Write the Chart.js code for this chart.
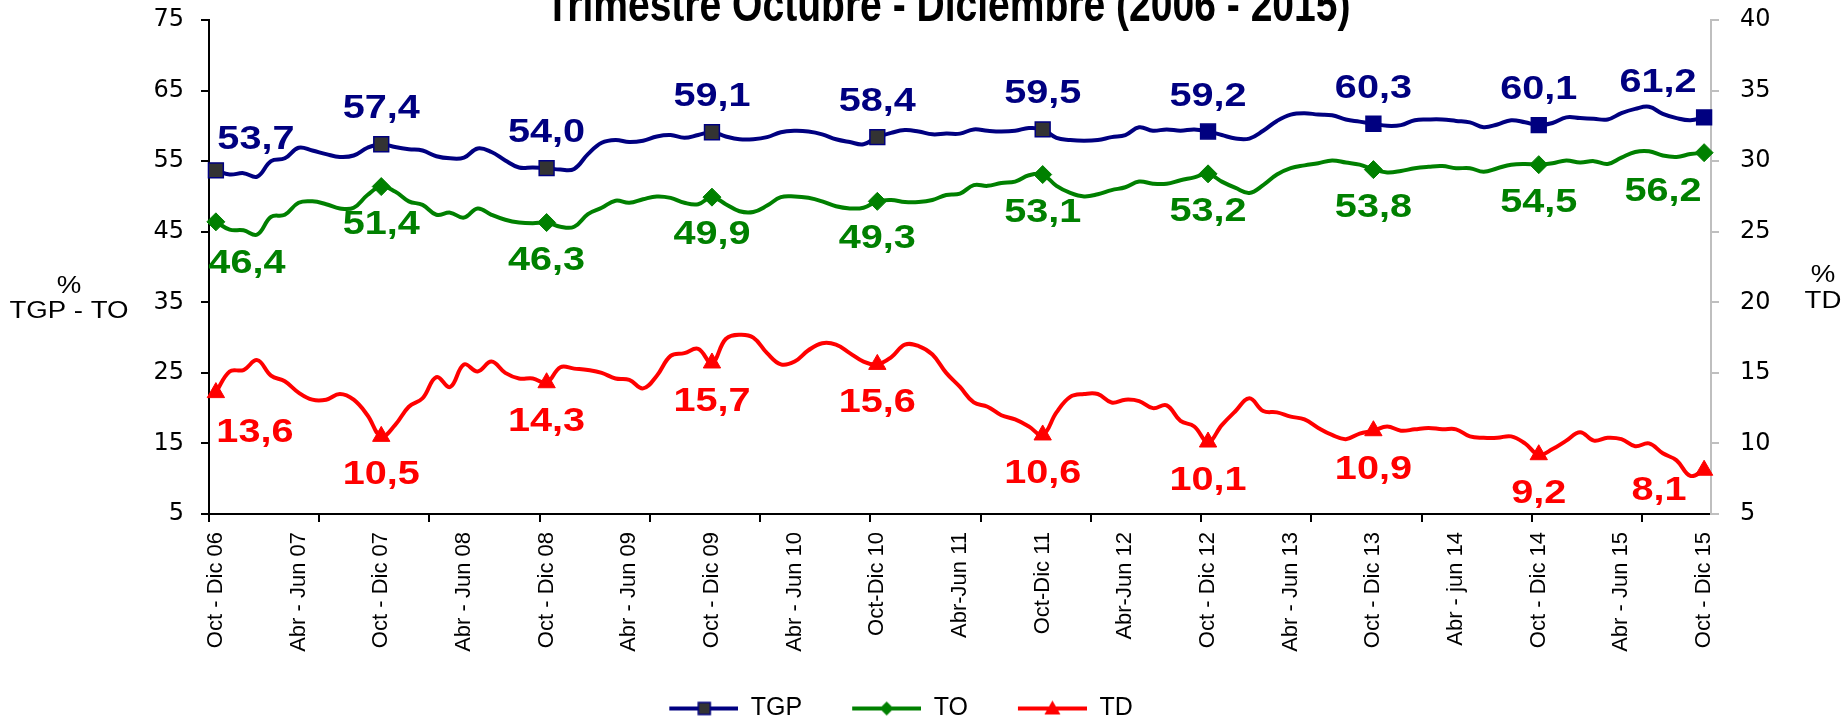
<!DOCTYPE html>
<html>
<head>
<meta charset="utf-8">
<script src="https://cdn.jsdelivr.net/npm/chart.js@4.4.1/dist/chart.umd.min.js"></script>
<style>
  html, body { margin: 0; padding: 0; background: #fff; }
  #contenedor { width: 1845px; height: 721px; position: relative; }
</style>
</head>
<body>
<div id="contenedor"><canvas id="grafico"></canvas></div>
<script>
(() => {
  'use strict'

  // Etiquetas visibles del eje X (una de cada 6 trimestres móviles)
  const tickLabels = ['Oct - Dic 06', 'Abr - Jun 07', 'Oct - Dic 07', 'Abr - Jun 08', 'Oct - Dic 08',
    'Abr - Jun 09', 'Oct - Dic 09', 'Abr - Jun 10', 'Oct-Dic 10', 'Abr-Jun 11', 'Oct-Dic 11',
    'Abr-Jun 12', 'Oct - Dic 12', 'Abr - Jun 13', 'Oct - Dic 13', 'Abr - jun 14', 'Oct - Dic 14',
    'Abr - Jun 15', 'Oct - Dic 15'];
  const meses = ['Ene', 'Feb', 'Mar', 'Abr', 'May', 'Jun', 'Jul', 'Ago', 'Sep', 'Oct', 'Nov', 'Dic'];

  // Tasa global de participación (%)
  const tgp = [53.7, 53.1, 53.3, 52.8, 55.0, 55.4, 56.9, 56.5, 56.0, 55.6, 55.8, 56.9,
    57.4, 57.0, 56.7, 56.5, 55.7, 55.4, 55.5, 56.8, 56.3, 55.1, 54.1, 54.1,
    54.0, 53.8, 53.9, 56.0, 57.6, 58.0, 57.7, 57.9, 58.5, 58.7, 58.3, 58.7,
    59.1, 58.5, 58.1, 58.1, 58.4, 59.1, 59.3, 59.2, 58.8, 58.1, 57.7, 57.4,
    58.4, 59.0, 59.4, 59.2, 58.8, 58.9, 58.9, 59.5, 59.3, 59.2, 59.3, 59.7,
    59.5, 58.3, 58.0, 57.9, 58.0, 58.4, 58.7, 59.8, 59.3, 59.5, 59.3, 59.5,
    59.2, 58.7, 58.2, 58.2, 59.3, 60.7, 61.6, 61.8, 61.6, 61.5, 60.9, 60.6,
    60.3, 60.0, 60.1, 60.8, 60.9, 60.9, 60.7, 60.5, 59.8, 60.2, 60.8, 60.5,
    60.1, 60.4, 61.2, 61.1, 61.0, 60.9, 61.8, 62.4, 62.7, 61.7, 61.1, 60.8,
    61.2];
  // Tasa de ocupación (%)
  const to = [46.4, 45.3, 45.2, 44.6, 47.1, 47.4, 49.1, 49.3, 48.9, 48.3, 48.4, 50.2,
    51.4, 50.7, 49.3, 48.8, 47.4, 47.7, 47.0, 48.3, 47.4, 46.7, 46.3, 46.2,
    46.3, 45.7, 45.7, 47.5, 48.4, 49.4, 49.1, 49.6, 50.0, 49.8, 49.1, 48.9,
    49.9, 48.9, 47.9, 47.8, 48.7, 49.9, 50.0, 49.8, 49.3, 48.6, 48.3, 48.4,
    49.3, 49.5, 49.2, 49.2, 49.5, 50.2, 50.4, 51.6, 51.5, 51.9, 52.1, 53.0,
    53.1, 51.5, 50.5, 50.0, 50.3, 50.9, 51.3, 52.1, 51.8, 51.8, 52.3, 52.7,
    53.2, 52.1, 51.2, 50.5, 51.6, 53.1, 54.0, 54.4, 54.7, 55.1, 54.8, 54.5,
    53.8, 53.4, 53.6, 54.0, 54.2, 54.3, 54.0, 54.0, 53.5, 54.0, 54.5, 54.6,
    54.5, 54.7, 55.1, 54.8, 55.0, 54.6, 55.5, 56.3, 56.4, 55.8, 55.6, 56.0,
    56.2];
  // Tasa de desempleo (%), eje derecho
  const td = [13.6, 15.1, 15.2, 15.9, 14.8, 14.4, 13.6, 13.1, 13.1, 13.5, 13.1, 12.0,
    10.5, 11.3, 12.6, 13.2, 14.7, 14.0, 15.6, 15.1, 15.8, 15.0, 14.6, 14.6,
    14.3, 15.4, 15.3, 15.2, 15.0, 14.6, 14.5, 13.9, 14.8, 16.2, 16.4, 16.7,
    15.7, 17.4, 17.7, 17.5, 16.4, 15.6, 15.8, 16.6, 17.1, 17.0, 16.4, 15.8,
    15.6, 16.1, 17.0, 16.9, 16.3, 15.0, 14.0, 12.9, 12.6, 12.0, 11.7, 11.2,
    10.6, 12.2, 13.3, 13.5, 13.5, 12.9, 13.1, 13.0, 12.5, 12.7, 11.6, 11.2,
    10.1, 11.3, 12.3, 13.2, 12.3, 12.2, 11.9, 11.7, 11.1, 10.6, 10.3, 10.7,
    10.9, 11.2, 10.9, 11.0, 11.1, 11.0, 11.0, 10.5, 10.4, 10.4, 10.5, 10.0,
    9.2, 9.6, 10.2, 10.8, 10.2, 10.4, 10.3, 9.8, 10.0, 9.3, 8.8, 7.7,
    8.1];

  // Trimestres móviles: Oct-Dic 06, Nov-Ene 07, ... ; se usa la etiqueta visible cada 6
  const categorias = tgp.map((_, i) => {
    if (i % 6 === 0) return tickLabels[i / 6];
    const ini = (9 + i) % 12;
    const fin = (ini + 2) % 12;
    const anio = 6 + Math.floor((11 + i) / 12);
    return meses[ini] + ' - ' + meses[fin] + ' ' + String(anio).padStart(2, '0');
  });

  const FUENTE = '"Liberation Sans", Arial, sans-serif';
  const FUENTE_EJES = '"DejaVu Sans", Verdana, sans-serif';
  const AZUL = '#000080', VERDE = '#008000', ROJO = '#FF0000';
  const esMarca = (c) => c.dataIndex % 12 === 0; // solo los trimestres Oct-Dic llevan marca

  // Iconos de la leyenda: margen transparente a la izquierda + línea con marca al centro
  const MARGEN = 40;
  const iconoLeyenda = (color, marca) => {
    const c = document.createElement('canvas');
    c.width = MARGEN + 69; c.height = 22;
    const g = c.getContext('2d');
    g.translate(MARGEN, 0);
    g.strokeStyle = color; g.lineWidth = 4;
    g.beginPath(); g.moveTo(0, 11); g.lineTo(69, 11); g.stroke();
    marca(g);
    return c;
  };
  const iconos = [
    iconoLeyenda(AZUL, g => { g.fillStyle = '#333333'; g.fillRect(29, 5, 12, 12); g.strokeStyle = AZUL; g.lineWidth = 1.5; g.strokeRect(29, 5, 12, 12); }),
    iconoLeyenda(VERDE, g => { g.fillStyle = VERDE; g.beginPath(); g.moveTo(27.5, 11); g.lineTo(34.5, 4); g.lineTo(41.5, 11); g.lineTo(34.5, 18); g.closePath(); g.fill(); }),
    iconoLeyenda(ROJO, g => { g.fillStyle = ROJO; g.beginPath(); g.moveTo(34.5, 3); g.lineTo(42.5, 17); g.lineTo(26.5, 17); g.closePath(); g.fill(); })
  ];

  // Ajuste de las etiquetas de valor: dy general, [dx, dy] para la primera y la última
  const ajustes = [
    { dy: -35, primera: [40, -30], ultima: [-46, -34] },
    { dy: 38, primera: [31, 42], ultima: [-41, 39] },
    { dy: 39, primera: [39, 40], ultima: [-45, 21] }
  ];

  const etiquetasValor = {
    id: 'etiquetasValor',
    afterDatasetsDraw(chart) {
      const ctx = chart.ctx;
      chart.data.datasets.forEach((ds, d) => {
        const meta = chart.getDatasetMeta(d);
        const ultimo = ds.data.length - 1;
        meta.data.forEach((pt, i) => {
          if (i % 12 !== 0) return;
          const aj = ajustes[d];
          let [dx, dy] = [0, aj.dy];
          if (i === 0) [dx, dy] = aj.primera;
          if (i === ultimo) [dx, dy] = aj.ultima;
          ctx.save();
          ctx.translate(pt.x + dx, pt.y + dy);
          ctx.scale(1.2, 1);
          ctx.font = 'bold 33px ' + FUENTE;
          ctx.fillStyle = ds.borderColor;
          ctx.textAlign = 'center';
          ctx.textBaseline = 'middle';
          ctx.fillText(ds.data[i].toFixed(1).replace('.', ','), 0, 0);
          ctx.restore();
        });
      });
    }
  };

  // Título (cortado en la parte superior) y títulos de los ejes
  const textos = {
    id: 'textos',
    afterDraw(chart) {
      const ctx = chart.ctx;
      const titulo = 'Trimestre Octubre - Diciembre (2006 - 2015)';
      ctx.save();
      ctx.font = 'bold 48px ' + FUENTE;
      const k = 805 / ctx.measureText(titulo).width;
      ctx.translate(948, 21);
      ctx.scale(k, 1);
      ctx.fillStyle = '#000';
      ctx.textAlign = 'center';
      ctx.textBaseline = 'alphabetic';
      ctx.fillText(titulo, 0, 0);
      ctx.restore();

      const rotulo = (x, y, t) => {
        ctx.save();
        ctx.translate(x, y);
        ctx.scale(1.2, 1);
        ctx.font = '23px ' + FUENTE;
        ctx.fillStyle = '#000';
        ctx.textAlign = 'center';
        ctx.textBaseline = 'middle';
        ctx.fillText(t, 0, 0);
        ctx.restore();
      };
      rotulo(69, 287, '%');
      rotulo(69, 312, 'TGP - TO');
      rotulo(1823, 276, '%');
      rotulo(1823, 302, 'TD');
    }
  };

  const sinRelleno = (s, ancho) => { s.width = ancho; s.paddingTop = 0; s.paddingBottom = 0; };

  new Chart(document.getElementById('grafico'), {
    type: 'line',
    data: {
      labels: categorias,
      datasets: [{
        label: 'TGP',
        data: tgp,
        yAxisID: 'y',
        borderColor: AZUL,
        borderWidth: 4,
        tension: 0.4,
        pointStyle: 'rect',
        pointRadius: c => esMarca(c) ? 10.5 : 0,
        pointBackgroundColor: c => c.dataIndex < 72 ? '#333333' : AZUL,
        pointBorderColor: AZUL,
        pointBorderWidth: 1.5
      }, {
        label: 'TO',
        data: to,
        yAxisID: 'y',
        borderColor: VERDE,
        borderWidth: 4,
        tension: 0.4,
        pointStyle: 'rectRot',
        pointRadius: c => esMarca(c) ? 9 : 0,
        pointBackgroundColor: VERDE,
        pointBorderColor: VERDE,
        pointBorderWidth: 1
      }, {
        label: 'TD',
        data: td,
        yAxisID: 'y2',
        borderColor: ROJO,
        borderWidth: 4,
        tension: 0.4,
        pointStyle: 'triangle',
        pointRadius: c => esMarca(c) ? 10 : 0,
        pointBackgroundColor: ROJO,
        pointBorderColor: ROJO,
        pointBorderWidth: 1
      }]
    },
    options: {
      responsive: true,
      maintainAspectRatio: false,
      animation: false,
      devicePixelRatio: 1,
      layout: { padding: { top: 20, right: 43, bottom: -10, left: -MARGEN }, autoPadding: false },
      plugins: {
        title: { display: false },
        tooltip: { enabled: false },
        legend: {
          position: 'bottom',
          labels: {
            usePointStyle: true,
            pointStyleWidth: MARGEN + 69,
            boxHeight: 25,
            padding: 10,
            color: '#000',
            font: { family: FUENTE, size: 25 },
            generateLabels: (chart) => chart.data.datasets.map((ds, i) => ({
              text: ds.label,
              pointStyle: iconos[i],
              fillStyle: ds.borderColor,
              strokeStyle: ds.borderColor,
              lineWidth: 0,
              hidden: false,
              datasetIndex: i
            }))
          }
        }
      },
      scales: {
        x: {
          type: 'category',
          offset: true,
          grid: {
            drawOnChartArea: false,
            offset: true,
            tickLength: 8,
            lineWidth: 2,
            color: c => c.index % 8 === 0 ? '#000' : 'rgba(0,0,0,0)'
          },
          border: { color: '#000', width: 2 },
          ticks: {
            autoSkip: false,
            minRotation: 90,
            maxRotation: 90,
            padding: 10,
            color: '#000',
            font: { family: FUENTE, size: 22 },
            callback: (v, i) => i % 6 === 0 ? tickLabels[i / 6] : ''
          },
          afterFit: (s) => { s.height = 172; }
        },
        y: {
          position: 'left',
          min: 5,
          max: 75,
          grid: { drawOnChartArea: false, tickLength: 8, lineWidth: 2, color: '#000' },
          border: { color: '#000', width: 2 },
          ticks: { stepSize: 10, padding: 17, color: '#000', font: { family: FUENTE_EJES, size: 24 } },
          afterFit: (s) => sinRelleno(s, 209 + MARGEN)
        },
        y2: {
          position: 'right',
          min: 5,
          max: 40,
          grid: { drawOnChartArea: false, tickLength: 8, lineWidth: 2, color: '#BFBFBF' },
          border: { color: '#BFBFBF', width: 2 },
          ticks: { stepSize: 5, padding: 21, color: '#000', font: { family: FUENTE_EJES, size: 24 } },
          afterFit: (s) => sinRelleno(s, 91)
        }
      }
    },
    plugins: [etiquetasValor, textos]
  });
})();
</script>
</body>
</html>
